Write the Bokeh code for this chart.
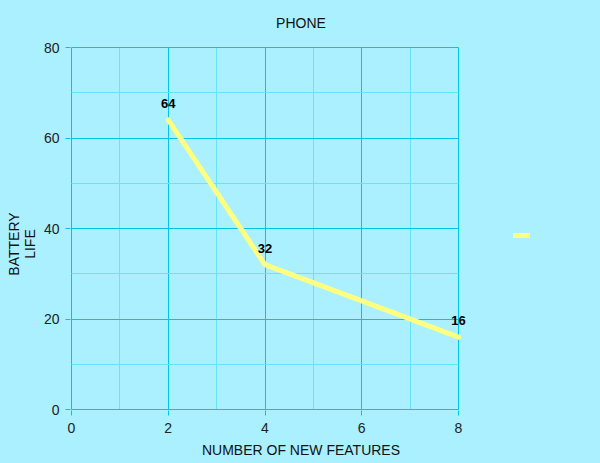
from bokeh.plotting import figure
from bokeh.models import ColumnDataSource, Legend, LegendItem, Title, FixedTicker, LabelSet
from bokeh.core.properties import value
from bokeh.embed import file_html
from bokeh.resources import INLINE

# data
features = [2, 4, 8]
battery = [64, 32, 16]
labels = [str(v) for v in battery]
x_ticks = [0, 2, 4, 6, 8]
x_minor = [1, 3, 5, 7]
y_ticks = [0, 20, 40, 60, 80]
y_minor = [10, 30, 50, 70]

BG = "#aaf0ff"
MAJOR = "#00c4e8"
MINOR = "#66e4fc"
LINE = "#ffff80"
FONT = "Liberation Sans"

# pixel geometry of the plotting area: the data span 0..8 x 0..80 covers 387 x 362 px;
# the frame is 1px larger on each edge (so edge grid lines are drawn) and also covers
# the legend area on the right, as in the original chart
DATA_W, DATA_H = 387, 362
FRAME_W, FRAME_H = 461, DATA_H + 2
LEFT, TOP = 70, 46
ux = x_ticks[-1] / DATA_W
uy = y_ticks[-1] / DATA_H
x_range = (-ux, -ux + FRAME_W * ux)
y_range = (-uy, y_ticks[-1] + uy)

src = ColumnDataSource(dict(x=features, y=battery, t=labels))

p = figure(frame_width=FRAME_W, frame_height=FRAME_H, x_range=x_range, y_range=y_range,
           output_backend="svg", toolbar_location=None,
           min_border_left=LEFT, min_border_right=600 - LEFT - FRAME_W, min_border_top=TOP,
           min_border_bottom=463 - TOP - FRAME_H,
           background_fill_color=BG, border_fill_color=BG, outline_line_color=None)

p.title = Title(text="PHONE", align="center", vertical_align="top", standoff=28,
                text_font=FONT, text_font_size="14px", text_font_style="normal",
                text_color="#111111")

for ax in (p.xaxis[0], p.yaxis[0]):
    ax.axis_line_color = None
    ax.major_tick_line_color = MAJOR
    ax.minor_tick_line_color = None
    ax.major_tick_in = 0
    ax.major_tick_out = 5
    ax.major_label_text_font = FONT
    ax.major_label_text_font_size = "14px"
    ax.major_label_text_color = "#222222"
    ax.axis_label_text_font = FONT
    ax.axis_label_text_font_size = "14px"
    ax.axis_label_text_font_style = "normal"
    ax.axis_label_text_color = "#111111"

p.xaxis.ticker = FixedTicker(ticks=x_ticks, minor_ticks=x_minor)
p.yaxis.ticker = FixedTicker(ticks=y_ticks, minor_ticks=y_minor)
pad = "\u00a0" * 8
p.yaxis.axis_label = "BATTERY" + pad + "\nLIFE" + pad
p.yaxis.axis_label_text_line_height = 1.0
p.yaxis.axis_label_standoff = 3
p.yaxis.major_label_standoff = 6
p.xaxis.axis_label = "NUMBER OF NEW FEATURES"
p.xaxis.axis_label_standoff = 6
p.xaxis.major_label_standoff = 7

p.xgrid.grid_line_color = MAJOR
p.xgrid.minor_grid_line_color = MINOR
p.xgrid.cross_bounds = (y_ticks[0], y_ticks[-1])
p.ygrid.grid_line_color = MAJOR
p.ygrid.minor_grid_line_color = MINOR
p.ygrid.cross_bounds = (x_ticks[0], x_ticks[-1])

r = p.line("x", "y", source=src, line_color=LINE, line_width=5, line_cap="round", line_join="round")

p.add_layout(LabelSet(x="x", y="y", text="t", source=src, text_align="center",
                      text_baseline="bottom", y_offset=12, text_font=value(FONT),
                      text_font_size="13px", text_font_style="bold", text_color="#000000"))

legend = Legend(items=[LegendItem(label="", renderers=[r])], location=(443, 165),
                margin=0, padding=0, glyph_width=17, background_fill_alpha=0,
                border_line_color=None, label_text_font_size="1px", label_standoff=0,
                label_width=0)
p.add_layout(legend, "center")

html = file_html(p, INLINE)
html = html.replace("</head>", "<style>html, body { background-color: %s; }</style></head>" % BG, 1)
open("out.html", "w").write(html)
